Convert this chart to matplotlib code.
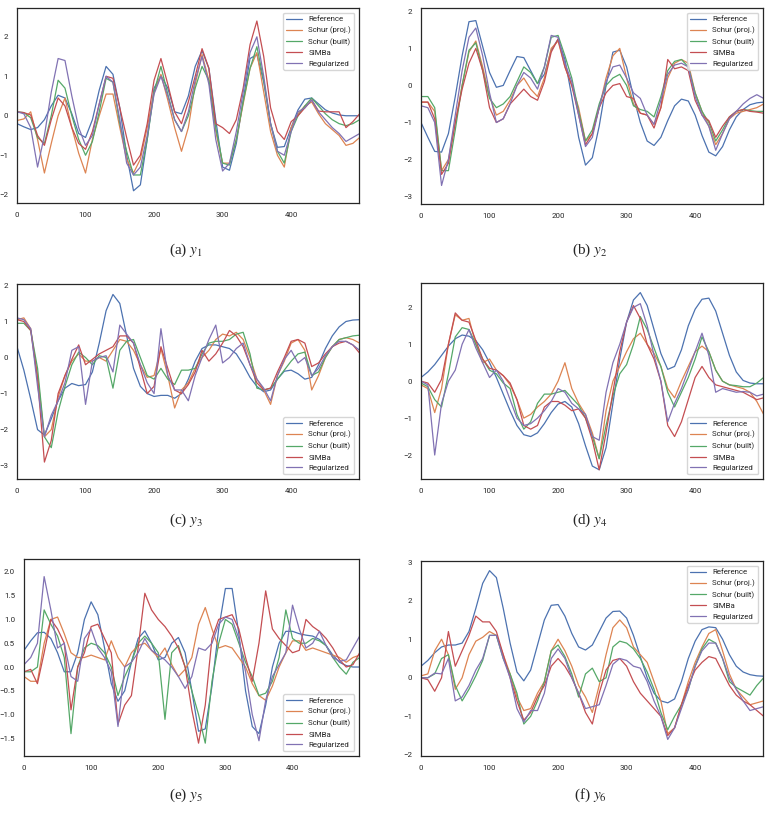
import numpy as np
import matplotlib
matplotlib.use("Agg")
import matplotlib.pyplot as plt
import seaborn as sns

sns.set_style("white")
plt.rcParams['font.family'] = ['Roboto', 'DejaVu Sans']
plt.rcParams['mathtext.fontset'] = 'stix'
plt.rcParams['axes.linewidth'] = 0.9

# series legend names (same for every panel)
labels = ["Reference", "Schur (proj.)", "Schur (built)", "SIMBa", "Regularized"]
colors = sns.color_palette("deep")[:5]

# values read every 10 samples (t = 0, 10, ..., 500)
# --- y1 ---
a_ref = [-0.20, -0.28, -0.35, -0.30, -0.10, 0.25, 0.52, 0.45, 0.05, -0.45, -0.55, -0.10, 0.65, 1.25, 1.05, 0.20,
         -1.00, -1.90, -1.75, -0.60, 0.70, 1.02, 0.70, 0.10, 0.05, 0.50, 1.25, 1.65, 1.20, -0.10, -1.30, -1.38,
         -0.70, 0.40, 1.45, 1.55, 0.85, -0.20, -0.80, -0.78, -0.30, 0.15, 0.42, 0.45, 0.30, 0.15, 0.07, 0.02,
         0.00, 0.00, 0.00]
a_proj = [-0.12, -0.08, 0.10, -0.60, -1.45, -0.70, 0.00, 0.45, -0.30, -0.95, -1.45, -0.60, 0.00, 0.55, 0.55, -0.30,
          -1.10, -1.45, -1.10, -0.30, 0.60, 1.05, 0.40, -0.30, -0.90, -0.30, 0.80, 1.55, 0.90, -0.40, -1.20, -1.20,
          -0.60, 0.30, 1.20, 1.60, 0.60, -0.40, -1.00, -1.30, -0.30, 0.05, 0.25, 0.35, 0.05, -0.20, -0.35, -0.50,
          -0.75, -0.70, -0.55]
a_built = [0.10, 0.08, -0.05, -0.55, -0.70, 0.00, 0.90, 0.70, 0.00, -0.60, -1.00, -0.65, 0.10, 0.95, 0.85, -0.20,
           -0.90, -1.50, -1.50, -0.60, 0.60, 1.25, 0.55, -0.10, -0.40, 0.00, 0.70, 1.25, 0.90, -0.30, -1.20, -1.25,
           -0.60, 0.35, 1.20, 1.75, 0.90, -0.20, -0.90, -1.20, -0.40, 0.00, 0.25, 0.45, 0.25, 0.05, -0.10, -0.20,
           -0.25, -0.20, -0.10]
a_simba = [0.10, 0.08, 0.02, -0.50, -0.75, -0.10, 0.45, 0.25, -0.30, -0.70, -0.85, -0.40, 0.30, 1.00, 0.95, 0.20,
           -0.55, -1.25, -1.00, -0.20, 0.90, 1.45, 0.80, 0.10, -0.20, 0.35, 1.00, 1.70, 1.20, -0.20, -0.30, -0.45,
           -0.10, 0.70, 1.80, 2.40, 1.50, 0.20, -0.40, -0.60, -0.15, 0.00, 0.20, 0.40, 0.12, 0.10, 0.10, 0.10,
           -0.30, -0.15, 0.05]
a_reg = [0.10, 0.05, -0.30, -1.30, -0.50, 0.60, 1.45, 1.40, 0.50, -0.30, -0.75, -0.50, 0.30, 1.00, 0.85, -0.10,
         -1.20, -1.50, -1.30, -0.50, 0.55, 1.00, 0.50, -0.10, -0.40, 0.10, 0.90, 1.50, 0.80, -0.60, -1.40, -1.20,
         -0.40, 0.60, 1.60, 2.00, 1.00, -0.20, -0.90, -1.00, -0.40, 0.10, 0.20, 0.40, 0.10, -0.10, -0.30, -0.45,
         -0.65, -0.55, -0.45]

# --- y2 ---
b_ref = [-1.00, -1.40, -1.78, -1.80, -1.30, -0.30, 0.80, 1.72, 1.75, 1.05, 0.35, -0.05, 0.00, 0.40, 0.78, 0.75,
         0.40, 0.05, 0.30, 0.95, 1.25, 0.70, -0.30, -1.40, -2.15, -1.95, -1.10, 0.00, 0.90, 0.95, 0.50, -0.30,
         -1.00, -1.50, -1.62, -1.40, -0.95, -0.55, -0.37, -0.42, -0.80, -1.35, -1.80, -1.90, -1.65, -1.20, -0.85,
         -0.65, -0.52, -0.47, -0.45]
b_proj = [-0.45, -0.45, -0.70, -2.30, -2.00, -1.00, 0.00, 0.90, 1.20, 0.50, -0.30, -0.80, -0.70, -0.40, 0.00, 0.20,
          -0.10, -0.30, 0.20, 1.00, 1.20, 0.50, 0.00, -0.60, -1.50, -1.30, -0.60, 0.20, 0.80, 1.00, 0.20, -0.50,
          -0.75, -0.80, -1.05, -0.60, 0.20, 0.60, 0.70, 0.60, -0.20, -0.70, -1.10, -1.60, -1.30, -0.90, -0.75,
          -0.70, -0.65, -0.60, -0.50]
b_built = [-0.30, -0.30, -0.60, -2.30, -2.30, -1.20, 0.00, 0.95, 1.15, 0.40, -0.35, -0.60, -0.50, -0.30, 0.10, 0.50,
           0.35, 0.05, 0.50, 1.30, 1.35, 0.80, 0.20, -0.70, -1.50, -1.20, -0.50, 0.00, 0.20, 0.30, 0.00, -0.55,
           -0.65, -0.70, -0.85, -0.30, 0.40, 0.65, 0.70, 0.50, -0.20, -0.70, -1.00, -1.50, -1.20, -0.85, -0.70,
           -0.65, -0.68, -0.70, -0.70]
b_simba = [-0.45, -0.45, -0.90, -2.40, -2.10, -1.00, -0.10, 0.60, 1.00, 0.40, -0.60, -1.00, -0.90, -0.50, -0.30, -0.10,
           -0.30, -0.40, 0.10, 0.90, 1.25, 0.50, 0.00, -0.80, -1.60, -1.30, -0.60, -0.20, 0.00, 0.05, -0.30, -0.35,
           -0.75, -0.80, -1.15, -0.60, 0.70, 0.45, 0.50, 0.40, -0.40, -0.80, -0.95, -1.40, -1.10, -0.85, -0.70,
           -0.65, -0.70, -0.72, -0.75]
b_reg = [-0.55, -0.60, -1.00, -2.70, -2.00, -0.80, 0.40, 1.30, 1.55, 0.80, -0.20, -1.00, -0.90, -0.50, 0.00, 0.35,
         0.20, -0.10, 0.50, 1.35, 1.30, 0.60, 0.10, -0.80, -1.65, -1.40, -0.60, 0.10, 0.50, 0.55, 0.20, -0.20,
         -0.35, -0.80, -1.05, -0.40, 0.30, 0.55, 0.60, 0.50, -0.30, -0.80, -1.10, -1.75, -1.30, -0.90, -0.70,
         -0.50, -0.35, -0.25, -0.35]

# --- y3 ---
c_ref = [0.30, -0.35, -1.15, -2.00, -2.15, -1.70, -1.20, -0.85, -0.72, -0.78, -0.75, -0.40, 0.40, 1.30, 1.75, 1.50,
         0.60, -0.30, -0.80, -1.00, -1.08, -1.05, -1.05, -1.13, -1.00, -0.60, -0.10, 0.25, 0.35, 0.35, 0.30, 0.25,
         0.10, -0.20, -0.55, -0.80, -0.95, -0.90, -0.60, -0.38, -0.35, -0.45, -0.60, -0.55, -0.20, 0.25, 0.60,
         0.85, 1.00, 1.04, 1.05]
c_proj = [1.05, 1.10, 0.80, -0.50, -2.20, -2.00, -1.10, -0.50, -0.10, 0.10, -0.10, -0.10, 0.00, -0.10, 0.20, 0.50,
          0.45, 0.20, -0.20, -0.55, -0.50, 0.25, -0.50, -1.40, -0.90, -0.70, -0.30, 0.00, 0.20, 0.50, 0.65, 0.60,
          0.70, 0.50, 0.00, -0.60, -0.90, -1.30, -0.50, -0.10, 0.40, 0.50, 0.20, -0.90, -0.50, 0.00, 0.30, 0.50,
          0.55, 0.50, 0.40]
c_built = [0.95, 0.95, 0.75, -0.30, -2.20, -2.50, -1.50, -0.80, -0.20, 0.15, 0.00, -0.20, 0.05, 0.00, -0.85, 0.20,
           0.45, 0.50, 0.00, -0.50, -0.60, -0.30, -0.60, -0.75, -0.35, -0.35, -0.30, 0.10, 0.40, 0.45, 0.45, 0.50,
           0.65, 0.70, 0.10, -0.85, -0.90, -0.85, -0.60, -0.35, -0.10, 0.10, 0.15, -0.50, -0.40, 0.00, 0.30, 0.50,
           0.55, 0.60, 0.62]
c_simba = [1.05, 1.00, 0.75, -0.60, -2.90, -2.30, -1.00, -0.50, -0.05, 0.35, -0.20, -0.05, 0.10, 0.20, 0.30, 0.60,
           0.60, 0.40, -0.30, -1.00, -0.80, 0.30, -0.30, -0.90, -1.00, -0.75, -0.40, 0.20, -0.10, 0.10, 0.40, 0.75,
           0.60, 0.30, -0.20, -0.70, -0.90, -0.85, -0.40, 0.00, 0.45, 0.50, 0.40, -0.25, -0.15, 0.10, 0.30, 0.40,
           0.45, 0.35, 0.12]
c_reg = [1.10, 1.05, 0.80, -0.80, -2.20, -1.60, -1.20, -0.70, 0.20, 0.30, -1.30, -0.10, 0.00, 0.05, -0.40, 0.90,
         0.65, 0.40, -0.20, -0.70, -1.00, 0.80, -0.50, -0.90, -0.90, -1.20, -0.50, 0.00, 0.50, 0.90, -0.15, 0.00,
         0.25, 0.40, -0.20, -0.60, -0.85, -1.20, -0.50, -0.05, 0.20, -0.15, 0.00, -0.50, -0.30, 0.05, 0.30, 0.45,
         0.45, 0.35, 0.20]

# --- y4 ---
d_ref = [0.10, 0.25, 0.45, 0.70, 0.95, 1.15, 1.25, 1.22, 1.10, 0.85, 0.50, 0.10, -0.35, -0.80, -1.20, -1.45,
         -1.50, -1.40, -1.15, -0.85, -0.62, -0.55, -0.70, -1.15, -1.75, -2.30, -2.40, -1.80, -0.60, 0.60, 1.60,
         2.20, 2.40, 2.05, 1.40, 0.75, 0.32, 0.40, 0.85, 1.50, 1.95, 2.22, 2.25, 1.90, 1.30, 0.70, 0.25, 0.02,
         -0.05, -0.07, -0.07]
d_proj = [-0.10, -0.20, -0.85, -0.20, 1.00, 1.80, 1.65, 1.70, 1.00, 0.50, 0.60, 0.30, 0.15, -0.10, -0.50, -1.00,
          -0.90, -0.70, -0.55, -0.35, 0.00, 0.50, -0.20, -0.60, -0.90, -1.40, -2.10, -0.80, 0.00, 0.40, 0.80, 1.15,
          1.30, 1.00, 0.75, 0.40, -0.20, -0.45, 0.00, 0.40, 0.80, 0.95, 0.80, 0.30, 0.00, -0.10, -0.15, -0.20,
          -0.30, -0.55, -0.90]
d_built = [-0.05, -0.15, -0.50, -0.70, 0.20, 1.20, 1.45, 1.40, 1.00, 0.60, 0.30, 0.20, -0.05, -0.20, -0.90, -1.30,
           -1.10, -0.60, -0.35, -0.35, -0.30, -0.25, -0.45, -0.65, -1.00, -1.50, -2.10, -1.20, -0.40, 0.20, 0.45,
           1.00, 1.75, 1.40, 0.90, 0.40, -0.30, -0.70, -0.30, 0.10, 0.60, 1.20, 0.80, 0.30, 0.00, -0.10, -0.12,
           -0.15, -0.15, -0.05, 0.10]
d_simba = [0.00, -0.05, -0.30, 0.05, 1.00, 1.85, 1.65, 1.60, 1.10, 0.60, 0.35, 0.30, 0.15, -0.05, -0.50, -1.20,
           -1.30, -1.20, -0.70, -0.55, -0.55, -0.65, -0.80, -0.75, -1.00, -1.60, -2.40, -1.40, -0.30, 0.80, 1.60,
           2.05, 1.70, 1.00, 0.60, 0.00, -1.20, -1.50, -1.10, -0.50, 0.10, 0.40, 0.10, -0.10, -0.15, -0.20, -0.25,
           -0.30, -0.40, -0.50, -0.45]
d_reg = [0.00, -0.10, -2.00, -0.60, 0.00, 0.30, 1.00, 1.40, 0.90, 0.50, 0.10, 0.30, 0.00, -0.50, -1.00, -1.20,
         -1.15, -1.00, -0.80, -0.55, -0.20, -0.30, -0.60, -0.75, -0.90, -1.50, -1.60, -0.30, 0.50, 1.00, 1.60,
         2.00, 2.10, 1.50, 0.70, 0.00, -1.10, -0.60, -0.20, 0.30, 0.80, 1.30, 0.70, -0.30, -0.20, -0.25, -0.30,
         -0.28, -0.30, -0.40, -0.35]

# --- y5 ---
e_ref = [0.35, 0.55, 0.72, 0.73, 0.60, 0.30, -0.10, -0.10, 0.30, 1.00, 1.37, 1.10, 0.40, -0.35, -0.72, -0.50,
         0.10, 0.60, 0.76, 0.50, 0.15, 0.20, 0.50, 0.62, 0.30, -0.50, -1.35, -1.30, -0.40, 0.80, 1.65, 1.65,
         0.70, -0.50, -1.25, -1.40, -0.80, 0.00, 0.50, 0.75, 0.75, 0.70, 0.67, 0.65, 0.58, 0.45, 0.25, 0.10,
         0.03, 0.00, 0.00]
e_proj = [-0.20, -0.30, -0.30, 0.50, 1.00, 1.05, 0.70, 0.30, 0.20, 0.20, 0.25, 0.20, 0.15, 0.55, 0.20, 0.00,
          0.30, 0.45, 0.50, 0.35, 0.20, 0.40, 0.05, -0.20, -0.05, 0.20, 0.90, 1.25, 0.80, 0.40, 0.45, 0.40,
          0.20, 0.00, -0.35, -0.60, -0.70, -0.40, 0.00, 0.30, 0.55, 0.55, 0.35, 0.40, 0.35, 0.30, 0.25, 0.20,
          0.10, 0.20, 0.25]
e_built = [-0.10, -0.10, 0.00, 1.20, 0.90, 0.65, 0.20, -1.40, 0.00, 0.40, 0.50, 0.45, 0.30, 0.00, -0.60, -0.20,
           0.10, 0.50, 0.65, 0.50, 0.30, -1.10, 0.30, 0.45, 0.00, -0.50, -1.00, -1.60, -0.30, 0.50, 1.00, 0.90,
           0.50, 0.10, -0.20, -0.60, -0.55, -0.30, 0.20, 1.20, 0.60, 0.50, 0.50, 0.60, 0.55, 0.45, 0.20, 0.00,
           -0.15, 0.10, 0.20]
e_simba = [-0.10, -0.05, -0.35, 0.30, 1.00, 0.80, 0.50, -0.90, 0.00, 0.30, 0.85, 0.90, 0.60, 0.30, -1.20, -0.80,
           -0.60, 0.40, 1.55, 1.20, 1.00, 0.85, 0.65, 0.40, 0.00, -0.90, -1.60, -0.80, 0.60, 1.00, 1.05, 1.10,
           0.80, 0.20, -0.30, 0.50, 1.60, 0.80, 0.60, 0.45, 0.30, 0.35, 1.00, 0.85, 0.75, 0.60, 0.40, 0.15,
           0.00, 0.05, 0.30]
e_reg = [0.05, 0.20, 0.50, 1.90, 1.20, 0.40, 0.50, -0.20, -0.30, 0.60, 0.80, 0.40, 0.20, -0.10, -1.25, 0.00,
         0.10, 0.30, 0.60, 0.35, 0.25, 0.15, 0.00, -0.20, -0.45, -0.20, 0.40, 0.35, 0.50, 0.90, 1.05, 1.00,
         0.60, -0.10, -1.00, -1.55, -0.70, -0.20, 0.05, 0.30, 1.30, 0.80, 0.40, 0.50, 0.75, 0.45, 0.20, 0.12,
         0.15, 0.40, 0.65]

# --- y6 ---
f_ref = [0.30, 0.45, 0.65, 0.80, 0.85, 0.85, 0.90, 1.20, 1.80, 2.45, 2.78, 2.60, 1.80, 0.90, 0.15, -0.08,
         0.20, 0.85, 1.50, 1.88, 1.90, 1.60, 1.15, 0.80, 0.72, 0.85, 1.20, 1.55, 1.72, 1.73, 1.55, 1.10,
         0.55, 0.00, -0.40, -0.60, -0.65, -0.55, -0.10, 0.50, 0.95, 1.25, 1.32, 1.30, 1.00, 0.60, 0.30, 0.15,
         0.08, 0.05, 0.04]
f_proj = [0.05, 0.10, 0.70, 1.00, 0.60, -0.30, 0.00, 0.60, 0.95, 1.05, 1.20, 1.10, 0.60, 0.10, -0.50, -0.85,
          -0.80, -0.40, -0.10, 0.70, 1.00, 0.70, 0.30, -0.20, -0.50, -0.90, -0.20, 0.60, 1.30, 1.50, 1.30, 0.80,
          0.60, 0.40, -0.10, -0.60, -1.45, -1.30, -0.70, -0.10, 0.40, 0.80, 1.15, 1.25, 0.70, 0.10, -0.30, -0.50,
          -0.70, -0.65, -0.60]
f_built = [0.00, 0.00, 0.10, 0.50, 0.60, -0.20, -0.60, -0.30, 0.05, 0.45, 1.10, 1.10, 0.50, 0.10, -0.40, -1.20,
           -1.00, -0.60, -0.10, 0.70, 0.85, 0.55, 0.10, -0.50, 0.10, 0.25, -0.10, 0.00, 0.80, 0.95, 0.90, 0.75,
           0.50, 0.15, -0.30, -0.90, -1.35, -1.00, -0.70, -0.30, 0.30, 0.75, 1.00, 0.90, 0.50, -0.10, -0.25, -0.35,
           -0.45, -0.20, 0.00]
f_simba = [0.00, -0.05, -0.35, 0.00, 1.20, 0.30, 0.70, 1.10, 1.60, 1.45, 1.45, 1.20, 0.60, 0.00, -0.60, -1.10,
           -0.90, -0.50, -0.20, 0.30, 0.50, 0.30, 0.00, -0.40, -0.90, -1.20, -0.40, 0.20, 0.45, 0.50, 0.30, -0.10,
           -0.40, -0.60, -0.80, -1.00, -1.50, -1.30, -0.70, -0.20, 0.20, 0.40, 0.55, 0.50, 0.15, -0.20, -0.45,
           -0.60, -0.70, -0.85, -1.00]
f_reg = [0.00, 0.00, 0.12, 0.10, 0.50, -0.60, -0.50, -0.20, 0.20, 0.50, 1.10, 1.10, 0.50, 0.00, -0.80, -1.15,
         -0.85, -0.85, -0.40, 0.50, 0.75, 0.50, 0.00, -0.40, -0.80, -0.75, -0.70, -0.20, 0.35, 0.50, 0.45, 0.30,
         0.25, -0.10, -0.60, -1.00, -1.60, -1.30, -0.80, -0.30, 0.30, 0.70, 0.90, 0.90, 0.50, 0.00, -0.30, -0.60,
         -0.85, -0.80, -0.75]

panels = [
    ("(a) $y_1$", [a_ref, a_proj, a_built, a_simba, a_reg], (-2.21, 2.73), "upper right"),
    ("(b) $y_2$", [b_ref, b_proj, b_built, b_simba, b_reg], (-3.2, 2.09), "upper right"),
    ("(c) $y_3$", [c_ref, c_proj, c_built, c_simba, c_reg], (-3.37, 2.04), "lower right"),
    ("(d) $y_4$", [d_ref, d_proj, d_built, d_simba, d_reg], (-2.65, 2.66), "lower right"),
    ("(e) $y_5$", [e_ref, e_proj, e_built, e_simba, e_reg], (-1.87, 2.27), "lower right"),
    ("(f) $y_6$", [f_ref, f_proj, f_built, f_simba, f_reg], (-2.03, 3.03), "upper right"),
]

# axes boxes in pixels: left, top, right, bottom; caption position in pixels
W, H = 770, 821
boxes = [(17, 8, 359, 203), (421, 8, 763, 204),
         (17, 284, 359, 479), (421, 283, 763, 479),
         (24, 559, 359, 756), (421, 561, 763, 756)]
cap_y = [250, 250, 520, 520, 795, 795]
cap_x = [186, 590, 186, 590, 186, 590]

fig = plt.figure(figsize=(7.7, 8.21), dpi=100)

for (cap, series, ylim, loc), (l, t, r, b), cy, cx in zip(panels, boxes, cap_y, cap_x):
    ax = fig.add_axes([l / W, 1 - b / H, (r - l) / W, (b - t) / H])
    for vals, lab, col in zip(series, labels, colors):
        x = 10 * np.arange(len(vals))
        ax.plot(x, vals, color=col, lw=0.9, label=lab)
    ax.set_xlim(0, 499)
    ax.set_ylim(*ylim)
    ax.set_xticks([0, 100, 200, 300, 400])
    ax.tick_params(labelsize=5.7, colors='.15', pad=3)
    for s in ax.spines.values():
        s.set_color('.15')
        s.set_linewidth(0.9)
    ax.legend(loc=loc, fontsize=5.7, frameon=True, borderaxespad=0.6)
    fig.text(cx / W, 1 - cy / H, cap, ha='center', va='center',
             family='Liberation Serif', fontsize=11)

fig.savefig("out.png", dpi=100)
